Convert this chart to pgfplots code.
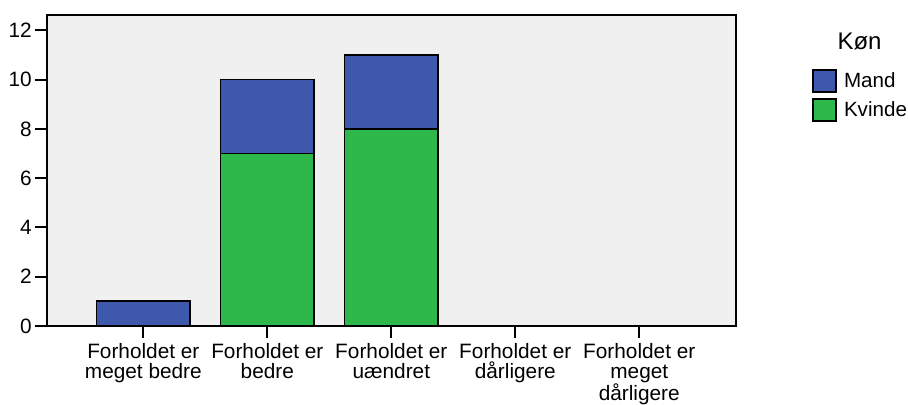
\documentclass[border=0pt]{standalone}
\usepackage{fontspec}
\setmainfont{Liberation Sans}
\usepackage{pgfplots}
\pgfplotsset{compat=1.18}
\definecolor{mand}{HTML}{3E58AC}
\definecolor{kvinde}{HTML}{2EB84A}
\definecolor{bg}{HTML}{F0F0F0}
\begin{document}
\begin{tikzpicture}
\useasboundingbox (-47bp,-79bp) rectangle (861bp,326bp);
\begin{axis}[
  at={(0,0)}, anchor=south west,
  scale only axis, width=689bp, height=311bp,
  ybar stacked, bar width=0.755,
  xmin=-0.777, xmax=4.78, ymin=0, ymax=12.62,
  xtick={0,1,2,3,4},
  xticklabels={{Forholdet er\\meget bedre},{Forholdet er\\bedre},{Forholdet er\\uændret},{Forholdet er\\dårligere},{Forholdet er\\meget\\dårligere}},
  ytick={0,2,4,6,8,10,12},
  axis background/.style={fill=bg},
  axis line style={line width=2bp},
  tick align=outside, major tick length=12bp,
  tick style={line width=2bp, black},
  xtick pos=left, ytick pos=left,
  tick label style={font=\fontsize{20.8bp}{20bp}\selectfont},
  /pgf/number format/assume math mode=true,
  x tick label style={align=center, anchor=north, inner sep=0pt, yshift=-5bp},
  y tick label style={anchor=east, inner sep=0pt, xshift=-3bp},
  legend style={at={(1.1103,0.8264)}, anchor=north west, draw=none, fill=none, inner sep=0pt,
    row sep=5bp, column sep=7bp, font=\fontsize{20.6bp}{20bp}\selectfont, nodes={inner sep=0pt}},
  legend cell align=left,
  reverse legend,
  legend image code/.code={\draw[#1, line width=1.8bp] (0bp,-11bp) rectangle (23bp,11bp);},
]
\addplot[fill=kvinde, draw=black, line width=1.8bp] coordinates {(0,0) (1,7) (2,8) (3,0) (4,0)};
\addplot[fill=mand, draw=black, line width=1.8bp] coordinates {(0,1) (1,3) (2,3) (3,0) (4,0)};
\legend{Kvinde, Mand}
\end{axis}
\node[anchor=base, inner sep=0pt, font=\fontsize{24bp}{24bp}\selectfont] at (812.5bp,276bp) {Køn};
\end{tikzpicture}
\end{document}
